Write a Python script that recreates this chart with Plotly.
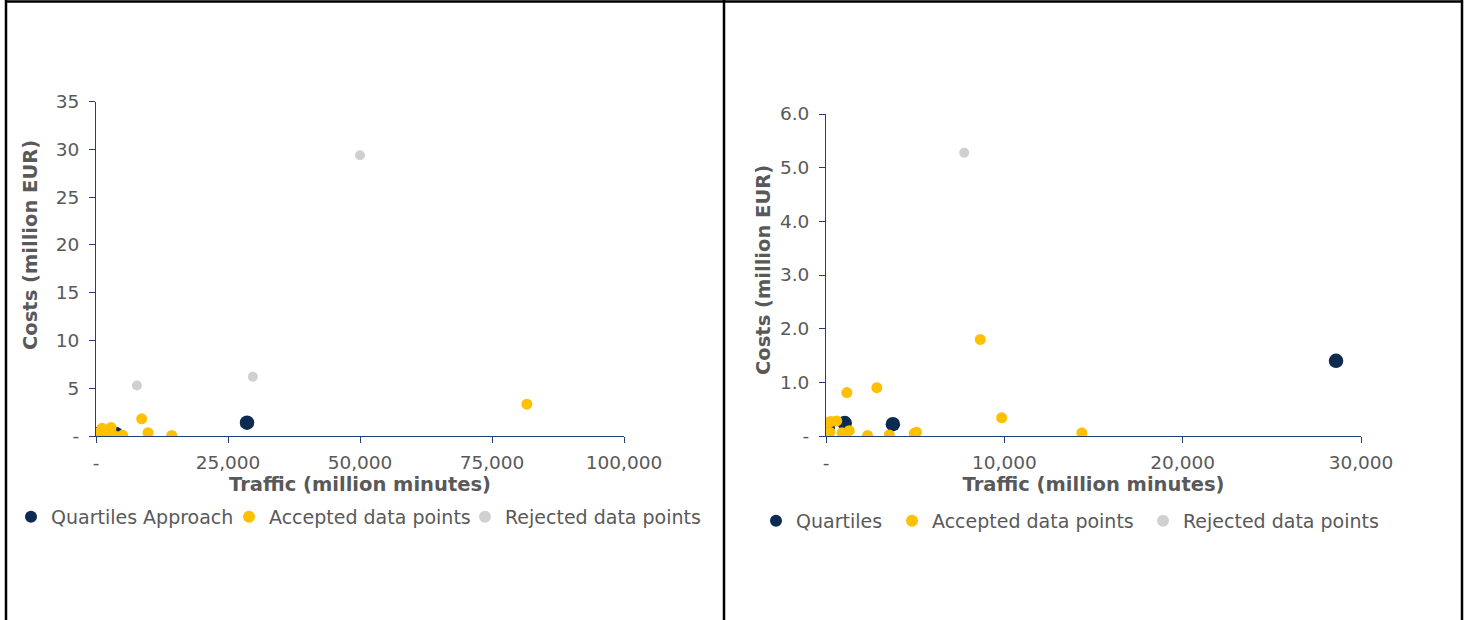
import plotly.graph_objects as go

# ---- data (traffic in million minutes, costs in million EUR) ----
quartiles_x = [100, 1050, 3750, 28600]
quartiles_y = [0.15, 0.24, 0.22, 1.40]

accepted_x = [0, 270, 220, 600, 900, 1300, 1170, 2850, 2330, 3550, 4950, 5070,
              8650, 9850, 14350, 81600]
accepted_y = [0.25, 0.27, 0.07, 0.28, 0.06, 0.10, 0.81, 0.90, 0.01, 0.02, 0.05, 0.07,
              1.80, 0.34, 0.06, 3.33]

rejected_x = [7750, 29700, 50000]
rejected_y = [5.28, 6.20, 29.40]

left_x_ticks = [0, 25000, 50000, 75000, 100000]
left_x_text = ["-", "25,000", "50,000", "75,000", "100,000"]
left_y_ticks = [0, 5, 10, 15, 20, 25, 30, 35]
left_y_text = ["-", "5", "10", "15", "20", "25", "30", "35"]

right_x_ticks = [0, 10000, 20000, 30000]
right_x_text = ["-", "10,000", "20,000", "30,000"]
right_y_ticks = [0, 1, 2, 3, 4, 5, 6]
right_y_text = ["-", "1.0", "2.0", "3.0", "4.0", "5.0", "6.0"]

RIGHT_X_MAX = 30000
RIGHT_Y_MAX = 6.0

NAVY = "#0D2A50"
YELLOW = "#FFC000"
GREY = "#D0D0D0"
AXIS = "#203F7A"
TEXT = "#595959"
FONT = "DejaVu Sans"

W, H = 1466, 620


def px(x):
    return x / W


def py(y):
    return 1 - y / H


def subset(xs, ys):
    pts = [(a, b) for a, b in zip(xs, ys) if a <= RIGHT_X_MAX and b <= RIGHT_Y_MAX]
    return [p[0] for p in pts], [p[1] for p in pts]


fig = go.Figure()

series = [
    ("Quartiles Approach", "Quartiles", quartiles_x, quartiles_y, NAVY, 14.5),
    ("Accepted data points", "Accepted data points", accepted_x, accepted_y, YELLOW, 11),
    ("Rejected data points", "Rejected data points", rejected_x, rejected_y, GREY, 10),
]

# one legend box per entry so each key sits where it belongs
left_keys = [(11, 517), (229, 517), (465, 517)]
right_keys = [(756, 521), (892, 521), (1143, 521)]

legend_font = dict(family=FONT, size=19, color=TEXT)
legends = {}

for i, (name_l, name_r, xs, ys, color, size) in enumerate(series):
    lid = "legend" if i == 0 else f"legend{i + 1}"
    fig.add_trace(go.Scatter(
        x=xs, y=ys, mode="markers", name=name_l,
        marker=dict(color=color, size=size),
        xaxis="x", yaxis="y", legend=lid,
    ))
    kx, ky = left_keys[i]
    legends[lid] = dict(orientation="h", x=px(kx), y=py(ky), xanchor="left",
                        yanchor="middle", font=legend_font, itemsizing="constant",
                        bgcolor="rgba(0,0,0,0)")

for i, (name_l, name_r, xs, ys, color, size) in enumerate(series):
    lid = f"legend{i + 4}"
    sx, sy = subset(xs, ys)
    fig.add_trace(go.Scatter(
        x=sx, y=sy, mode="markers", name=name_r,
        marker=dict(color=color, size=size),
        xaxis="x2", yaxis="y2", legend=lid,
    ))
    kx, ky = right_keys[i]
    legends[lid] = dict(orientation="h", x=px(kx), y=py(ky), xanchor="left",
                        yanchor="middle", font=legend_font, itemsizing="constant",
                        bgcolor="rgba(0,0,0,0)")

axis_common = dict(
    showline=True, linecolor=AXIS, linewidth=1,
    ticks="outside", ticklen=6, tickcolor=AXIS, tickwidth=1,
    showgrid=False, zeroline=False, automargin=False,
    tickfont=dict(family=FONT, size=18.5, color=TEXT),
    ticklabelstandoff=6,
    tickmode="array",
)
title_font = dict(family=FONT, size=19.5, color=TEXT, weight="bold")

fig.update_layout(
    width=W, height=H,
    margin=dict(l=0, r=0, t=0, b=0, autoexpand=False),
    paper_bgcolor="white", plot_bgcolor="white",
    font=dict(family=FONT, color=TEXT),
    showlegend=True,
    xaxis=dict(axis_common, domain=[px(96), px(624)], range=[0, 100000],
               tickvals=left_x_ticks, ticktext=left_x_text, anchor="y",
               ticklabelstandoff=4,
               title=dict(text="Traffic (million minutes)", font=title_font, standoff=5)),
    yaxis=dict(axis_common, domain=[py(436), py(101.7)], range=[0, 35],
               tickvals=left_y_ticks, ticktext=left_y_text, anchor="x"),
    xaxis2=dict(axis_common, domain=[px(826), px(1361)], range=[0, 30000],
                tickvals=right_x_ticks, ticktext=right_x_text, anchor="y2",
                ticklabelstandoff=4,
                title=dict(text="Traffic (million minutes)", font=title_font, standoff=5)),
    yaxis2=dict(axis_common, domain=[py(436), py(114)], range=[0, 6],
                tickvals=right_y_ticks, ticktext=right_y_text, anchor="x2"),
    **legends,
)

# vertical axis titles
for tx, ty in [(30, 245), (763, 270)]:
    fig.add_annotation(
        text="Costs (million EUR)", xref="paper", yref="paper",
        x=px(tx), y=py(ty), xanchor="center", yanchor="middle",
        textangle=-90, showarrow=False, font=title_font,
    )

# panel frame lines
frame = dict(type="line", xref="paper", yref="paper", line=dict(color="black", width=2.5))
fig.add_shape(frame, x0=px(5), x1=px(1463), y0=py(1.5), y1=py(1.5))
fig.add_shape(frame, x0=px(6), x1=px(6), y0=py(0), y1=py(H))
fig.add_shape(frame, x0=px(724), x1=px(724), y0=py(0), y1=py(H))
fig.add_shape(frame, x0=px(1462), x1=px(1462), y0=py(0), y1=py(H))

fig.write_html("out.html")
